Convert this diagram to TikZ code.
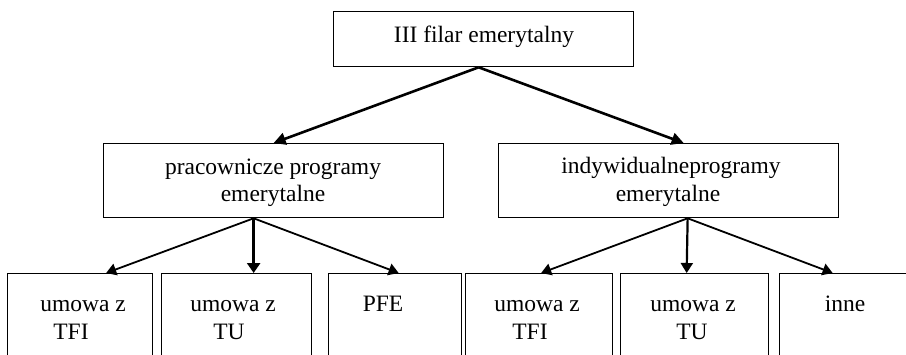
\documentclass[tikz,border=0pt]{standalone}
\usepackage{fontspec}
\setmainfont{Liberation Serif}
\usetikzlibrary{arrows.meta,calc}
\begin{document}
\begin{tikzpicture}[x=1pt,y=-1pt,
  boxnode/.style={draw=black,line width=1.3pt,rectangle,inner sep=0pt,anchor=north west},
  txt/.style={inner sep=0pt,anchor=base,font=\fontsize{23.5}{27}\selectfont},
  toparrow/.style={line width=2.6pt,-{Triangle[length=12pt,width=12pt]}},
  thickarrow/.style={line width=3.4pt,-{Triangle[length=10pt,width=13pt]}},
  midarrow/.style={line width=2.2pt,-{Triangle[length=10pt,width=12pt]}},
  thinarrow/.style={line width=1.8pt,-{Triangle[length=10pt,width=12pt]}}]
\useasboundingbox (0,0) rectangle (906,354);
\clip (0,0) rectangle (906,354);
% boxes
\node[boxnode,minimum width=300pt,minimum height=55pt] (top) at (333,11) {};
\node[boxnode,minimum width=340pt,minimum height=74pt] (ml) at (103,143) {};
\node[boxnode,minimum width=340pt,minimum height=74pt] (mr) at (498,143) {};
\node[boxnode,minimum width=145pt,minimum height=100pt] (b1) at (7,273) {};
\node[boxnode,minimum width=150pt,minimum height=100pt] (b2) at (161,273) {};
\node[boxnode,minimum width=133pt,minimum height=100pt] (b3) at (328,273) {};
\node[boxnode,minimum width=147pt,minimum height=100pt] (b4) at (465,273) {};
\node[boxnode,minimum width=148pt,minimum height=100pt] (b5) at (620,273) {};
\node[boxnode,minimum width=141pt,minimum height=100pt] (b6) at (779,273) {};
% texts
\node[txt] (ttop) at (484,42) {III filar emerytalny};
\node[txt] (tml1) at (273,174) {pracownicze programy};
\node[txt] (tml2) at (273,201) {emerytalne};
\node[txt] (tmr1) at (671,173) {indywidualneprogramy};
\node[txt] (tmr2) at (668,201) {emerytalne};
\node[txt] (tb1a) at (83,311) {umowa z};
\node[txt] (tb1b) at (71,339) {TFI};
\node[txt] (tb2a) at (233,311) {umowa z};
\node[txt] (tb2b) at (229,339) {TU};
\node[txt] (tb3a) at (383,311) {PFE};
\node[txt] (tb4a) at (537,311) {umowa z};
\node[txt] (tb4b) at (530,339) {TFI};
\node[txt] (tb5a) at (693,311) {umowa z};
\node[txt] (tb5b) at (692,339) {TU};
\node[txt] (tb6a) at (845,311) {inne};
% connectors
\draw[toparrow] ([xshift=-5pt]top.south) -- (ml.north);
\draw[toparrow] ([xshift=-5pt]top.south) -- ([xshift=15pt]mr.north);
\draw[thinarrow] ([xshift=-20pt]ml.south) -- ([xshift=26pt]b1.north);
\draw[thickarrow] ([xshift=-20pt]ml.south) -- ([xshift=17pt]b2.north);
\draw[thinarrow] ([xshift=-20pt]ml.south) -- ([xshift=3.5pt]b3.north);
\draw[thinarrow] ([xshift=19pt]mr.south) -- ([xshift=2pt]b4.north);
\draw[midarrow] ([xshift=19pt]mr.south) -- ([xshift=-8pt]b5.north);
\draw[thinarrow] ([xshift=19pt]mr.south) -- ([xshift=-17.5pt]b6.north);
\end{tikzpicture}
\end{document}
